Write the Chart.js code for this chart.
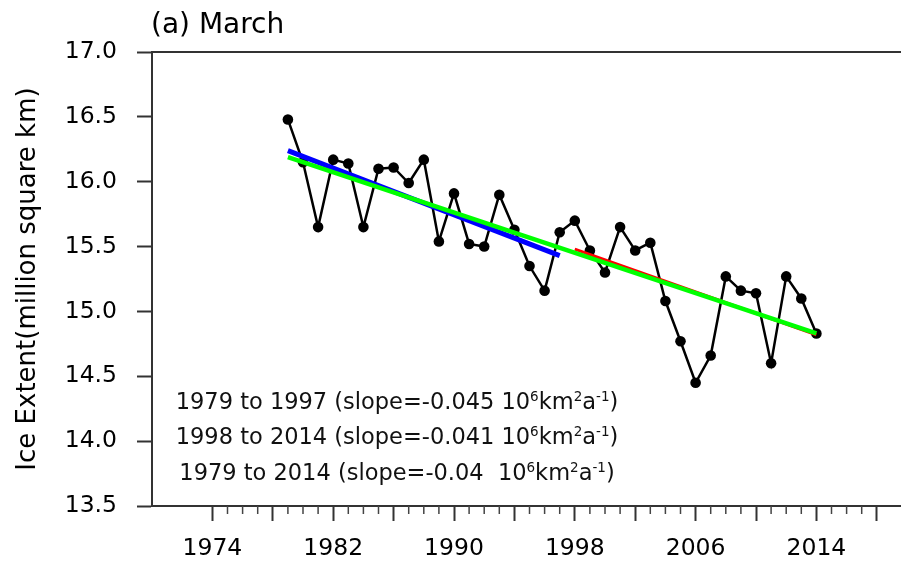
<!DOCTYPE html>
<html>
<head>
<meta charset="utf-8">
<script src="https://cdn.jsdelivr.net/npm/chart.js@4"></script>
<style>
  html, body { margin: 0; padding: 0; background: #fff; overflow: hidden; }
  canvas { display: block; }
</style>
</head>
<body>
<canvas id="iceChart" width="920" height="566"></canvas>
<script>
// --- Data ---
const years = [
  1979, 1980, 1981, 1982, 1983, 1984, 1985, 1986, 1987, 1988, 1989, 1990,
  1991, 1992, 1993, 1994, 1995, 1996, 1997, 1998, 1999, 2000, 2001, 2002,
  2003, 2004, 2005, 2006, 2007, 2008, 2009, 2010, 2011, 2012, 2013, 2014,
];
const extent = [
  16.48, 16.15, 15.65, 16.17, 16.14, 15.65, 16.10, 16.11, 15.99, 16.17, 15.54, 15.91,
  15.52, 15.50, 15.90, 15.63, 15.35, 15.16, 15.61, 15.70, 15.47, 15.30, 15.65, 15.47,
  15.53, 15.08, 14.77, 14.45, 14.66, 15.27, 15.16, 15.14, 14.60, 15.27, 15.10, 14.83,
];

// trend line end points
const trend1Years = [1979, 1997];
const trend1Values = [16.24, 15.43];
const trend2Years = [1998, 2014];
const trend2Values = [15.48, 14.82];
const trend3Years = [1979, 2014];
const trend3Values = [16.19, 14.83];

const majorTicks = [1974, 1978, 1982, 1986, 1990, 1994, 1998, 2002, 2006, 2010, 2014, 2018];
const labeledYears = [1974, 1982, 1990, 1998, 2006, 2014];
const minorTicks = [
  1975, 1976, 1977, 1979, 1980, 1981, 1983, 1984, 1985, 1987, 1988, 1989,
  1991, 1992, 1993, 1995, 1996, 1997, 1999, 2000, 2001, 2003, 2004, 2005,
  2007, 2008, 2009, 2011, 2012, 2013, 2015, 2016, 2017,
];

const noteRanges = ['1979 to 1997', '1998 to 2014', '1979 to 2014'];
const noteSlopes = ['-0.045 ', '-0.041 ', '-0.04  '];

const FONT = '"DejaVu Sans", sans-serif';
const AXIS_COLOR = '#333';

function toPoints(xs, ys) {
  return xs.map((x, i) => ({ x, y: ys[i] }));
}

// --- Plugins ---
const framePlugin = {
  id: 'frame',
  afterDraw(chart) {
    const { ctx, chartArea, scales } = chart;
    ctx.save();
    ctx.strokeStyle = AXIS_COLOR;
    ctx.lineWidth = 2;
    ctx.beginPath();
    ctx.moveTo(chartArea.left, chartArea.top);
    ctx.lineTo(chartArea.right, chartArea.top);
    ctx.lineTo(chartArea.right, chartArea.bottom);
    ctx.stroke();

    // minor ticks on the year axis
    ctx.lineWidth = 1.5;
    ctx.strokeStyle = '#444';
    minorTicks.forEach((yr) => {
      const x = scales.x.getPixelForValue(yr);
      ctx.beginPath();
      ctx.moveTo(x, chartArea.bottom);
      ctx.lineTo(x, chartArea.bottom + 8);
      ctx.stroke();
    });

    // title
    ctx.fillStyle = '#000';
    ctx.font = '28px ' + FONT;
    ctx.textAlign = 'left';
    ctx.textBaseline = 'alphabetic';
    ctx.fillText('(a) March', 151, 33);
    ctx.restore();
  },
};

const notesPlugin = {
  id: 'notes',
  afterDraw(chart) {
    const { ctx } = chart;
    const baseFont = '22.5px ' + FONT;
    const supFont = '13.5px ' + FONT;
    const baselines = [409, 444, 480];
    const centerX = 397;
    ctx.save();
    ctx.fillStyle = '#111';
    ctx.textBaseline = 'alphabetic';
    ctx.textAlign = 'left';
    noteRanges.forEach((range, i) => {
      const parts = [
        [range + ' (slope=' + noteSlopes[i] + '10', false],
        ['6', true],
        ['km', false],
        ['2', true],
        ['a', false],
        ['-1', true],
        [')', false],
      ];
      let total = 0;
      parts.forEach(([t, sup]) => {
        ctx.font = sup ? supFont : baseFont;
        total += ctx.measureText(t).width;
      });
      let x = centerX - total / 2;
      parts.forEach(([t, sup]) => {
        ctx.font = sup ? supFont : baseFont;
        ctx.fillText(t, x, baselines[i] - (sup ? 8 : 0));
        x += ctx.measureText(t).width;
      });
    });
    ctx.restore();
  },
};

// --- Chart ---
new Chart(document.getElementById('iceChart'), {
  type: 'line',
  data: {
    datasets: [
      {
        data: toPoints(trend3Years, trend3Values),
        borderColor: '#00ff00',
        borderWidth: 4.5,
        pointRadius: 0,
        order: 0,
      },
      {
        data: toPoints(trend2Years, trend2Values),
        borderColor: '#ff0000',
        borderWidth: 3,
        pointRadius: 0,
        order: 1,
      },
      {
        data: toPoints(trend1Years, trend1Values),
        borderColor: '#0000ff',
        borderWidth: 5,
        pointRadius: 0,
        order: 2,
      },
      {
        data: toPoints(years, extent),
        borderColor: '#000',
        borderWidth: 2.5,
        pointRadius: 5.3,
        pointBackgroundColor: '#000',
        pointBorderWidth: 0,
        order: 3,
      },
    ],
  },
  options: {
    responsive: false,
    animation: false,
    layout: { padding: { top: 52, right: 13, left: 0, bottom: 0 } },
    plugins: {
      legend: { display: false },
      tooltip: { enabled: false },
    },
    scales: {
      x: {
        type: 'linear',
        min: 1970,
        max: 2020,
        afterBuildTicks: (scale) => {
          scale.ticks = majorTicks.map((v) => ({ value: v }));
        },
        afterFit: (scale) => { scale.height = 60; },
        grid: {
          drawOnChartArea: false,
          tickLength: 15,
          tickWidth: 2,
          tickColor: AXIS_COLOR,
        },
        border: { display: true, color: AXIS_COLOR, width: 2 },
        ticks: {
          autoSkip: false,
          maxRotation: 0,
          padding: 14,
          color: '#000',
          font: { family: FONT, size: 23.5 },
          callback: (v) => (labeledYears.includes(v) ? String(v) : ''),
        },
      },
      y: {
        min: 13.5,
        max: 17,
        afterFit: (scale) => { scale.width = 152; },
        grid: {
          drawOnChartArea: false,
          tickLength: 15,
          tickWidth: 2,
          tickColor: AXIS_COLOR,
        },
        border: { display: true, color: AXIS_COLOR, width: 2 },
        ticks: {
          stepSize: 0.5,
          padding: 20,
          color: '#000',
          font: { family: FONT, size: 23.5 },
          callback: (v) => v.toFixed(1),
        },
        title: {
          display: true,
          text: 'Ice Extent(million square km)',
          color: '#000',
          font: { family: FONT, size: 26 },
          padding: { top: 13, bottom: 0 },
        },
      },
    },
  },
  plugins: [framePlugin, notesPlugin],
});
</script>
</body>
</html>
